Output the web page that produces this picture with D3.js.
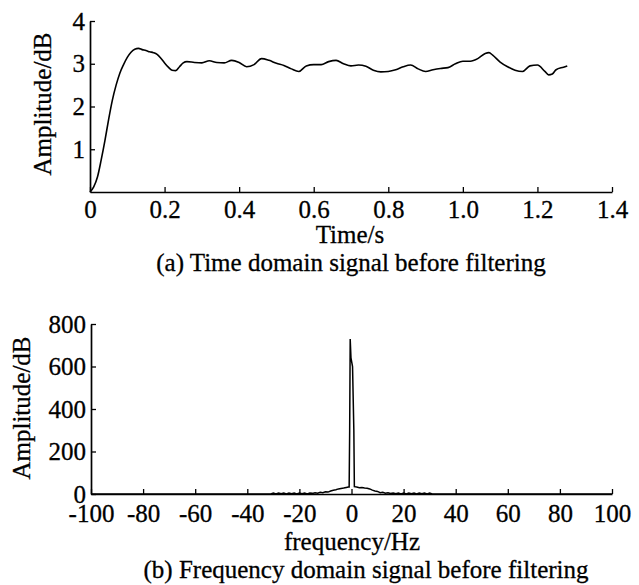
<!DOCTYPE html>
<html>
<head>
<meta charset="utf-8">
<script src="https://cdn.jsdelivr.net/npm/d3@7"></script>
<style>
  body { margin: 0; background: #fff; }
  svg text { font-family: "Liberation Serif", "Times New Roman", serif; fill: #000; stroke: #000; stroke-width: 0.3px; }
</style>
</head>
<body>
<svg id="chart" width="639" height="585"></svg>
<script>
// (a) time domain signal
const timeS = [0, 0.01, 0.02, 0.03, 0.04, 0.05, 0.06, 0.07, 0.08, 0.09, 0.10, 0.11, 0.12, 0.13,
  0.14, 0.15, 0.16, 0.17, 0.18, 0.19, 0.20, 0.21, 0.22, 0.23, 0.24, 0.25, 0.26, 0.28, 0.30,
  0.32, 0.34, 0.36, 0.38, 0.40, 0.42, 0.44, 0.46, 0.48, 0.50, 0.52, 0.54, 0.56, 0.58, 0.60,
  0.62, 0.64, 0.66, 0.68, 0.70, 0.72, 0.74, 0.76, 0.78, 0.80, 0.82, 0.84, 0.86, 0.88, 0.90,
  0.92, 0.94, 0.96, 0.98, 1.00, 1.02, 1.04, 1.06, 1.07, 1.08, 1.10, 1.12, 1.14, 1.16, 1.18,
  1.20, 1.22, 1.23, 1.24, 1.25, 1.27, 1.28];
const timeAmp = [0, 0.12, 0.35, 0.75, 1.2, 1.7, 2.15, 2.5, 2.78, 2.98, 3.15, 3.27, 3.34, 3.36,
  3.33, 3.31, 3.28, 3.26, 3.22, 3.13, 3.02, 2.92, 2.85, 2.84, 2.93, 3.02, 3.05, 3.03, 3.02,
  3.07, 3.03, 3.02, 3.08, 3.03, 2.93, 2.98, 3.12, 3.08, 3.01, 2.96, 2.88, 2.82, 2.95, 2.98,
  2.98, 3.05, 3.08, 3.0, 2.95, 2.97, 2.94, 2.85, 2.81, 2.82, 2.86, 2.93, 2.97, 2.88, 2.82,
  2.86, 2.89, 2.91, 3.0, 3.06, 3.06, 3.12, 3.24, 3.26, 3.2, 3.04, 2.93, 2.85, 2.82, 2.95,
  2.97, 2.82, 2.74, 2.76, 2.86, 2.92, 2.95];

// (b) frequency domain signal
const freqHz = [-100, -31, -30, -29, -28, -27, -26, -25, -24, -23, -22, -21, -20, -19, -18, -17,
  -16, -15, -14, -13, -12, -11, -10, -9, -8, -7, -6, -5, -4, -3, -2, -1.2, -0.9, -0.7, -0.5,
  -0.2, 0.4, 0.9, 1.1, 1.5, 2, 3, 4, 5, 6, 7, 8, 9, 10, 11, 12, 13, 14, 15, 16, 17, 18, 19, 20,
  21, 22, 23, 24, 25, 26, 27, 28, 29, 30, 31, 100];
const freqAmp = [0, 0, 4, 0, 5, 1, 4, 0, 5, 1, 4, 0, 5, 1, 4, 0,
  5, 3, 6, 4, 8, 6, 10, 9, 14, 18, 20, 24, 26, 28, 31, 33, 33, 300, 729,
  640, 600, 300, 35, 34, 33, 30, 31, 28, 27, 24, 18, 14, 12, 6, 8, 4, 6, 2, 5, 1, 5, 0, 4,
  0, 5, 1, 4, 0, 5, 1, 4, 0, 4, 0, 0];

const timeTicks = [0, 0.2, 0.4, 0.6, 0.8, 1.0, 1.2, 1.4];
const timeAmpTicks = [1, 2, 3, 4];
const freqTicks = [-100, -80, -60, -40, -20, 0, 20, 40, 60, 80, 100];
const freqAmpTicks = [0, 200, 400, 600, 800];

const svg = d3.select("#chart");
const FS = 25;

// draws one axis pair with inward ticks
function drawAxes(x, y, xTicks, yTicks, xFmt, xPad) {
  const gx = svg.append("g")
    .attr("transform", `translate(0,${y.range()[0]})`)
    .call(d3.axisBottom(x).tickValues(xTicks).tickFormat(xFmt)
      .tickSize(-5).tickSizeOuter(0).tickPadding(xPad));
  const gy = svg.append("g")
    .attr("transform", `translate(${x.range()[0]},0)`)
    .call(d3.axisLeft(y).tickValues(yTicks).tickFormat(d => String(d))
      .tickSize(-5).tickSizeOuter(0).tickPadding(5));
  [gx, gy].forEach(g => {
    g.select(".domain").attr("stroke", "#000").attr("stroke-width", 1.7);
    g.selectAll(".tick line").attr("stroke", "#000").attr("stroke-width", 1.3);
    g.selectAll("text").style("font-size", FS + "px").attr("fill", "#000");
  });
}

// ---- (a) time domain ----
const xT = d3.scaleLinear().domain([0, 1.4]).range([90, 612]);
const yT = d3.scaleLinear().domain([0, 4]).range([192, 21]);
drawAxes(xT, yT, timeTicks, timeAmpTicks, d => d === 0 ? "0" : d3.format(".1f")(d), 8);

svg.append("path")
  .datum(timeS.map((t, i) => [t, timeAmp[i]]))
  .attr("fill", "none").attr("stroke", "#000").attr("stroke-width", 1.6)
  .attr("d", d3.line().x(d => xT(d[0])).y(d => yT(d[1])).curve(d3.curveMonotoneX));

svg.append("text").attr("x", 350).attr("y", 243).attr("text-anchor", "middle")
  .style("font-size", FS + "px").text("Time/s");
svg.append("text").attr("x", 351).attr("y", 271).attr("text-anchor", "middle")
  .style("font-size", FS + "px").text("(a) Time domain signal before filtering");
svg.append("text").attr("transform", "translate(51,104) rotate(-90)").attr("text-anchor", "middle")
  .style("font-size", FS + "px").text("Amplitude/dB");

// ---- (b) frequency domain ----
const xF = d3.scaleLinear().domain([-100, 100]).range([91, 612]);
const yF = d3.scaleLinear().domain([0, 800]).range([494, 324]);
drawAxes(xF, yF, freqTicks, freqAmpTicks, d => String(d), 10);

svg.append("path")
  .datum(freqHz.map((f, i) => [f, freqAmp[i]]))
  .attr("fill", "none").attr("stroke", "#000").attr("stroke-width", 1.5)
  .attr("d", d3.line().x(d => xF(d[0])).y(d => yF(d[1])));

svg.append("text").attr("x", 352).attr("y", 550).attr("text-anchor", "middle")
  .style("font-size", FS + "px").text("frequency/Hz");
svg.append("text").attr("x", 366).attr("y", 578).attr("text-anchor", "middle")
  .style("font-size", FS + "px").text("(b) Frequency domain signal before filtering");
svg.append("text").attr("transform", "translate(30,408) rotate(-90)").attr("text-anchor", "middle")
  .style("font-size", FS + "px").text("Amplitude/dB");
</script>
</body>
</html>
